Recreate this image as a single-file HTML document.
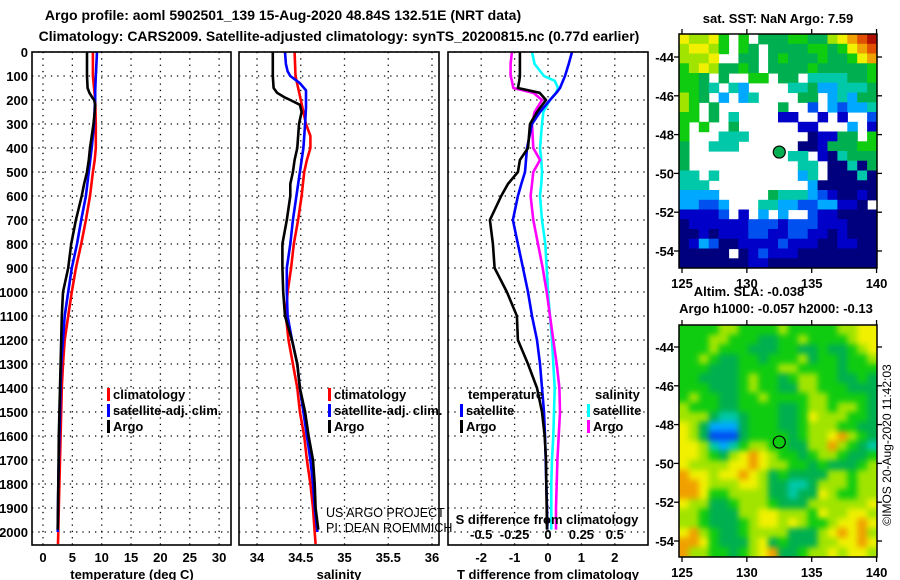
<!DOCTYPE html>
<html><head><meta charset="utf-8"><style>
html,body{margin:0;padding:0;background:#fff;}
svg{display:block;font-family:"Liberation Sans",Arial,sans-serif;}
.b{font-weight:bold;font-size:13px;fill:#000;}
.t{font-weight:bold;font-size:14px;fill:#000;}
</style></head><body>
<svg id="fig" width="900" height="580" viewBox="0 0 900 580" xmlns="http://www.w3.org/2000/svg">
<defs>
<filter id="blur" x="-20%" y="-20%" width="140%" height="140%" color-interpolation-filters="sRGB"><feGaussianBlur stdDeviation="3"/></filter>
<clipPath id="clipSla"><rect x="679" y="325" width="198" height="232"/></clipPath>
<clipPath id="clipSst"><rect x="679" y="34" width="198" height="234"/></clipPath>
</defs>
<rect width="900" height="580" fill="#fff"/>
<text class="t" x="283" y="20" text-anchor="middle">Argo profile: aoml 5902501_139 15-Aug-2020 48.84S 132.51E (NRT data)</text>
<text class="t" x="339" y="41" text-anchor="middle">Climatology: CARS2009. Satellite-adjusted climatology: synTS_20200815.nc (0.77d earlier)</text>
<g id="p1"></g>
<g id="p2"></g>
<g id="p3"></g>
<g id="m1"></g>
<g id="m2"></g>
<text class="b" x="778" y="23" text-anchor="middle">sat. SST: NaN Argo: 7.59</text>
<text class="b" x="749" y="296" text-anchor="middle">Altim. SLA: -0.038</text>
<text class="b" x="776" y="313" text-anchor="middle">Argo h1000: -0.057 h2000: -0.13</text>
<text x="891" y="445" font-size="12" text-anchor="middle" transform="rotate(-90 891 445)">©IMOS 20-Aug-2020 11:42:03</text>
</svg>
<script>
// ---------- profile data ----------
const argoDepth=[0,50,100,150,170,190,200,220,250,300,400,450,500,550,600,700,800,900,1000,1100,1200,1300,1400,1500,1600,1700,1800,1900,1990];
const argoTemp=[7.5,7.5,7.5,7.6,7.9,8.4,8.7,8.9,8.8,8.6,8.0,7.8,7.5,7.0,6.6,5.6,4.8,4.3,3.4,3.2,3.1,3.0,2.9,2.8,2.7,2.65,2.6,2.55,2.5];
const argoSal=[34.18,34.18,34.18,34.19,34.23,34.32,34.38,34.49,34.51,34.48,34.46,34.43,34.41,34.38,34.38,34.34,34.29,34.29,34.30,34.32,34.40,34.46,34.49,34.55,34.59,34.64,34.66,34.67,34.70];
const climDepth=[0,100,200,300,350,400,450,500,600,700,800,900,1000,1100,1200,1300,1400,1500,1600,1700,1800,1900,2000,2050];
const climTemp=[8.5,8.5,8.9,9.0,9.0,9.0,8.8,8.5,8.0,7.3,6.5,5.6,4.9,4.3,3.7,3.4,3.2,3.1,3.0,2.9,2.8,2.7,2.6,2.55];
const climSal=[34.43,34.44,34.50,34.56,34.61,34.61,34.57,34.54,34.51,34.47,34.42,34.39,34.35,34.33,34.36,34.41,34.46,34.49,34.54,34.57,34.61,34.64,34.66,34.67];
const satDepth=[0,50,80,100,130,160,200,230,300,400,500,600,700,800,900,1000,1100,1200,1300,1400,1500,1600,1700,1800,1900,2000];
const satTemp=[9.2,9.1,9.05,9.0,8.95,8.9,8.9,8.8,8.7,8.3,7.8,7.3,6.5,5.8,4.9,4.3,3.7,3.4,3.1,3.0,2.9,2.8,2.7,2.6,2.55,2.5];
const satSal=[34.32,34.33,34.35,34.38,34.49,34.56,34.56,34.56,34.55,34.53,34.49,34.45,34.41,34.38,34.34,34.34,34.35,34.40,34.46,34.49,34.53,34.57,34.61,34.64,34.66,34.69];
// differences
const dDepth=[0,50,100,120,150,170,200,250,300,400,450,500,550,600,700,800,900,1000,1100,1200,1300,1400,1500,1600,1700,1800,1900,1990];
const argoTDiff=[-0.84,-0.84,-0.84,-0.86,-0.9,-0.25,-0.06,-0.33,-0.54,-0.6,-0.84,-0.9,-1.2,-1.4,-1.74,-1.65,-1.6,-1.23,-0.93,-0.9,-0.6,-0.33,-0.18,-0.1,-0.06,-0.05,-0.04,-0.03];
const satTDiff=[0.72,0.62,0.51,0.45,0.36,0.25,0.06,-0.24,-0.48,-0.63,-0.66,-0.69,-0.8,-0.9,-1.05,-0.9,-0.75,-0.6,-0.48,-0.33,-0.24,-0.18,-0.12,-0.09,-0.07,-0.05,-0.03,-0.02];
const argoSDiff=[-0.27,-0.28,-0.28,-0.27,-0.26,-0.11,-0.045,-0.1,-0.12,-0.11,-0.06,-0.11,-0.12,-0.13,-0.11,-0.075,-0.04,-0.01,0.015,0.04,0.065,0.085,0.09,0.08,0.07,0.065,0.06,0.06];
const satSDiff=[-0.12,-0.1,-0.03,0.05,0.075,0.06,0.015,-0.035,-0.045,-0.06,-0.05,-0.045,-0.05,-0.06,-0.045,-0.02,-0.01,0.0,0.015,0.03,0.04,0.05,0.045,0.04,0.03,0.025,0.025,0.025];
const depthTicks=[0,100,200,300,400,500,600,700,800,900,1000,1100,1200,1300,1400,1500,1600,1700,1800,1900,2000];
const tempTicks=[0,5,10,15,20,25,30];
const salTicks=[34,34.5,35,35.5,36];
const salTickLabels=["34","34.5","35","35.5","36"];
const tdTicks=[-2,-1,0,1,2];
const sdTicks=[-0.5,-0.25,0,0.25,0.5];
const sdTickLabels=["-0.5","-0.25","0","0.25","0.5"];
// ---------- map data (colour index, '.' = no data) ----------
const lonTicks=[125,130,135,140];
const latTicks=[-44,-46,-48,-50,-52,-54];
const argoLon=132.5, argoLat=-48.9;
const sstRows=[
"87786.6.5556655789AB",
"78876.65.5555665689A",
"7778..55.56555655689",
"67875565.55556555556",
"665.5..66.55.4444556",
"6654.43....445334445",
"765.3.34....55.34355",
"76.5......5..2.32334",
"66.5.4....11..1.1..2",
"6.6..5......11...3.1",
"6...444......01155.6",
"5..444......00155566",
"5..........44.104555",
"5...........44.00405",
"44.4........34.00040",
"444..........3000000",
"3333.....54443210010",
"33223...44332233110",
"11112.1.3.3..2110000",
"01111112221222111000",
"00101112211221101000",
"01320011112111001100",
"00000.01211100000000",
"00000001100000000000"];
const slaRows=[
"66667766667666667788",
"66677666556676666788",
"66676665556655655678",
"66765566566675665667",
"66655566667766665666",
"66555567665677665565",
"66655567665577666555",
"67665566766667766665",
"76665566665567767765",
"77754456665568777665",
"87533356665567776655",
"87522256666567789765",
"88743467766557797654",
"88765789876656776556",
"87777889877665655567",
"98878898756555577677",
"99877788755445777677",
"99866777755455876677",
"87755677765557777778",
"77655577887776877887",
"77655567887876678898",
"89765567777555789897",
"99865557856555778898",
"97766567895567787887"];
const palette={"0":"#00007f","1":"#0000c8","2":"#0050f0","3":"#00a8ff","4":"#00c8a8","5":"#00b050","6":"#10cc10","7":"#a0e400","8":"#f0f000","9":"#f0a000","A":"#e05000","B":"#b01000"};

const NS="http://www.w3.org/2000/svg";
function mk(tag,attrs,parent){const e=document.createElementNS(NS,tag);for(const k in attrs)e.setAttribute(k,attrs[k]);parent.appendChild(e);return e;}
function txt(parent,x,y,s,anchor,cls){const e=mk("text",{x:x,y:y,"text-anchor":anchor||"middle",class:cls||"b"},parent);e.textContent=s;return e;}

const top0=52, bot0=545;
const yD=d=>52+0.24*d;

function panel(g,x0,x1,xf,xticks,xlabels,name){
  depthTicks.forEach(d=>{const l=mk("line",{x1:x0,x2:x1,y1:yD(d),y2:yD(d),stroke:"#000","stroke-width":1.3,"stroke-dasharray":"1.3 5"},g);
    
    });
  xticks.forEach((v,i)=>{const x=xf(v);const l=mk("line",{x1:x,x2:x,y1:top0,y2:bot0,stroke:"#000","stroke-width":1.3,"stroke-dasharray":"1.3 5"},g);
    
    
    if(xlabels){const t=txt(g,x,562,xlabels[i]);
      
      }});
}
function frame(g,x0,x1){const r=mk("rect",{x:x0,y:top0,width:x1-x0,height:bot0-top0,fill:"none",stroke:"#000","stroke-width":1.6},g);
  
  }
function curve(g,depths,vals,xf,color,name){
  const pts=depths.map((d,i)=>xf(vals[i]).toFixed(1)+","+yD(d).toFixed(1)).join(" ");
  const p=mk("polyline",{points:pts,fill:"none",stroke:color,"stroke-width":2.6,"stroke-linejoin":"round"},g);
  
  
}
function legendItem(g,x,y,color,label,name){
  const r=mk("rect",{x:x,y:y-11,width:3,height:13,fill:color},g);
  
  
  const t=txt(g,x+6,y,label,"start");
  
  
}

// Panel 1 temperature
const p1=document.getElementById("p1");
const xT=v=>43+5.87*v;
panel(p1,32,231,xT,tempTicks,tempTicks.map(String),"temperature");
curve(p1,climDepth,climTemp,xT,"#ff0000","temperature-climatology-line");
curve(p1,satDepth,satTemp,xT,"#0000ff","temperature-satellite-line");
curve(p1,argoDepth,argoTemp,xT,"#000000","temperature-argo-line");
frame(p1,32,231);
depthTicks.forEach(d=>{const t=txt(p1,28,yD(d)+5,String(d),"end");
  
  });
{const t=txt(p1,132,579,"temperature (deg C)");}
legendItem(p1,107,399,"#ff0000","climatology","legend-climatology");
legendItem(p1,107,415,"#0000ff","satellite-adj. clim.","legend-satellite-adj");
legendItem(p1,107,431,"#000000","Argo","legend-argo");

// Panel 2 salinity
const p2=document.getElementById("p2");
const xS=v=>257+87.5*(v-34);
panel(p2,239,439,xS,salTicks,salTickLabels,"salinity");
curve(p2,climDepth,climSal,xS,"#ff0000","salinity-climatology-line");
curve(p2,satDepth,satSal,xS,"#0000ff","salinity-satellite-line");
curve(p2,argoDepth,argoSal,xS,"#000000","salinity-argo-line");
frame(p2,239,439);
{const t=txt(p2,339,579,"salinity");}
legendItem(p2,328,399,"#ff0000","climatology","legend-climatology-2");
legendItem(p2,328,415,"#0000ff","satellite-adj. clim.","legend-satellite-adj-2");
legendItem(p2,328,431,"#000000","Argo","legend-argo-2");
{const t=mk("text",{x:326,y:517,"font-size":12.5},p2);t.textContent="US ARGO PROJECT";
 const t2=mk("text",{x:326,y:532,"font-size":12.5},p2);t2.textContent="PI: DEAN ROEMMICH";}

// Panel 3 differences
const p3=document.getElementById("p3");
const xTD=v=>548+33.4*v;
const xSD=v=>548+133.6*v;
panel(p3,448,648,xTD,tdTicks,tdTicks.map(String),"t-difference");
curve(p3,dDepth,satSDiff,xSD,"#00ffff","salinity-satellite-diff-line");
curve(p3,dDepth,argoSDiff,xSD,"#ff00ff","salinity-argo-diff-line");
curve(p3,dDepth,satTDiff,xTD,"#0000ff","temperature-satellite-diff-line");
curve(p3,dDepth,argoTDiff,xTD,"#000000","temperature-argo-diff-line");
frame(p3,448,648);
sdTicks.forEach((v,i)=>{const t=txt(p3,xSD(v),539,sdTickLabels[i]);});
{const t=txt(p3,547,524,"S difference from climatology");
 const t2=txt(p3,548,579,"T difference from climatology");
 const t3=txt(p3,468,399,"temperature","start");
 const t4=txt(p3,595,399,"salinity","start");}
legendItem(p3,460,415,"#0000ff","satellite","legend-t-satellite");
legendItem(p3,460,431,"#000000","Argo","legend-t-argo");
legendItem(p3,587,415,"#00ffff","satellite","legend-s-satellite");
legendItem(p3,587,431,"#ff00ff","Argo","legend-s-argo");

// Maps
function map(g,rows,yTop,yBot,lat44y,lonLabelY,name,markerFill,clipId,smooth){
  const x0=679,x1=877;
  const xL=lon=>682+12.97*(lon-125);
  const yL=lat=>lat44y+19.4*(-44-lat);
  const lonMin=125+(x0-682)/12.97, lonMax=125+(x1-682)/12.97;
  const latTop=-44-(yTop-lat44y)/19.4, latBot=-44-(yBot-lat44y)/19.4;
  const nR=rows.length,nC=rows[0].length;
  const dLon=(lonMax-lonMin)/nC, dLat=(latTop-latBot)/nR;
  const outer=mk("g",{"clip-path":"url(#"+clipId+")"},g);
  if(smooth){mk("rect",{x:x0,y:yTop,width:x1-x0,height:yBot-yTop,fill:"#30c820"},outer);}
  const cg=mk("g",smooth?{filter:"url(#blur)"}:{},outer);
  const pad=smooth?2:0;
  rows.forEach((row,r)=>{for(let c=-pad;c<nC+pad;c++){
    const cc=Math.min(nC-1,Math.max(0,c)); const ch=row[cc];if(!ch||ch==".")continue;
    const xa=xL(lonMin+c*dLon), xb=xL(lonMin+(c+1)*dLon), ya=yL(latTop-r*dLat), yb=yL(latTop-(r+1)*dLat);
    let y1=ya,y2=yb; if(smooth&&r===0)y1-=20; if(smooth&&r===nR-1)y2+=20;
    const rc=mk("rect",{x:xa.toFixed(1),y:y1.toFixed(1),width:(xb-xa+0.6).toFixed(1),height:(y2-y1+0.6).toFixed(1),fill:palette[ch]},cg);
    
    }});
  const fr=mk("rect",{x:x0,y:yTop,width:x1-x0,height:yBot-yTop,fill:"none",stroke:"#000","stroke-width":1.5},g);
  
  
  lonTicks.forEach(l=>{const x=xL(l);
    mk("line",{x1:x,x2:x,y1:yTop,y2:yTop-5,stroke:"#000","stroke-width":1.3},g);
    mk("line",{x1:x,x2:x,y1:yBot,y2:yBot+5,stroke:"#000","stroke-width":1.3},g);
    const t=txt(g,x,lonLabelY,String(l));t.setAttribute("font-size","15");
    
    });
  latTicks.forEach(l=>{const y=yL(l);
    mk("line",{x1:x0,x2:x0-5,y1:y,y2:y,stroke:"#000","stroke-width":1.3},g);
    mk("line",{x1:x1,x2:x1+5,y1:y,y2:y,stroke:"#000","stroke-width":1.3},g);
    const t=txt(g,674,y+5,String(l),"end");
    
    });
  const m=mk("circle",{cx:xL(argoLon),cy:yL(argoLat),r:6,fill:markerFill,stroke:"#000","stroke-width":1.2},g);
  
  
}
map(document.getElementById("m1"),sstRows,34,268,57,288,"sst-map","#00b050","clipSst",false);
map(document.getElementById("m2"),slaRows,325,557,347,577,"sla-map","none","clipSla",true);
</script>
</body></html>
